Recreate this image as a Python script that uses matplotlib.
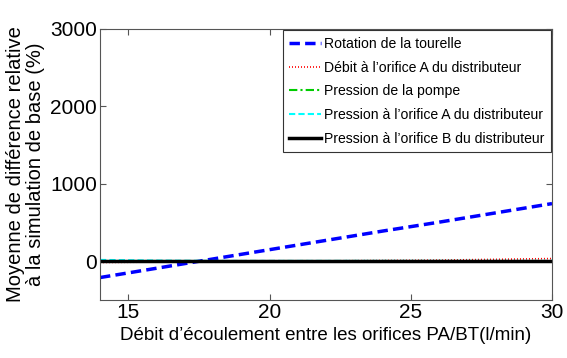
import matplotlib
matplotlib.use("Agg")
import matplotlib.pyplot as plt

plt.rcParams["font.family"] = ["Liberation Sans", "DejaVu Sans"]

# Débit d'écoulement (l/min)
debit = [14, 16, 18, 20, 22, 24, 26, 28, 30]

# Moyenne de différence relative (%)
rotation_tourelle = [-210, -90, 30, 150, 270, 390, 505, 625, 745]
debit_orifice_a = [-15, -10, -5, 0, 5, 10, 15, 25, 35]
pression_pompe = [5, 5, 5, 5, 5, 5, 5, 5, 5]
pression_orifice_a = [18, 10, 5, 5, 5, 5, 5, 5, 5]
pression_orifice_b = [0, 0, 0, 0, 0, 0, 0, 0, 0]

series = [
    ("Rotation de la tourelle", rotation_tourelle, "#0000ff", (0, (3, 1.5)), 2.5),
    ("Débit à l’orifice A du distributeur", debit_orifice_a, "#ff0000", (0, (0.6, 1.2)), 1.2),
    ("Pression de la pompe", pression_pompe, "#00cc00", (0, (4, 1.5, 1, 1.5)), 1.5),
    ("Pression à l’orifice A du distributeur", pression_orifice_a, "#00ffff", (0, (3, 1.5)), 1.5),
    ("Pression à l’orifice B du distributeur", pression_orifice_b, "#000000", "-", 2.5),
]

fig = plt.figure(figsize=(5.67, 3.58), dpi=100)
ax = fig.add_axes([100 / 567, 58 / 358, 452 / 567, 271 / 358])

for label, values, color, ls, lw in series:
    ax.plot(debit, values, color=color, linestyle=ls, linewidth=lw, label=label)

ax.set_xlim(14, 30)
ax.set_ylim(-500, 3000)
ax.set_xticks([15, 20, 25, 30])
ax.set_yticks([0, 1000, 2000, 3000])
ax.tick_params(labelsize=15, direction="in", length=4, color="#555555", pad=2,
               top=True, right=True)
for s in ax.spines.values():
    s.set_color("#555555")
    s.set_linewidth(0.8)

ax.set_xlabel("Débit d’écoulement entre les orifices PA/BT(l/min)", fontsize=13.5, labelpad=4)
ax.set_ylabel("Moyenne de différence relative\nà la simulation de base (%)",
              fontsize=14.5, labelpad=4, linespacing=1.05)

leg = ax.legend(loc="upper right", fontsize=10.1, handlelength=2.3, handletextpad=0.2,
                borderpad=0.45, labelspacing=0.7, fancybox=False, framealpha=1,
                borderaxespad=0.1)
leg.get_frame().set_edgecolor("#333333")
leg.get_frame().set_linewidth(0.8)

fig.savefig("out.png", dpi=100)
